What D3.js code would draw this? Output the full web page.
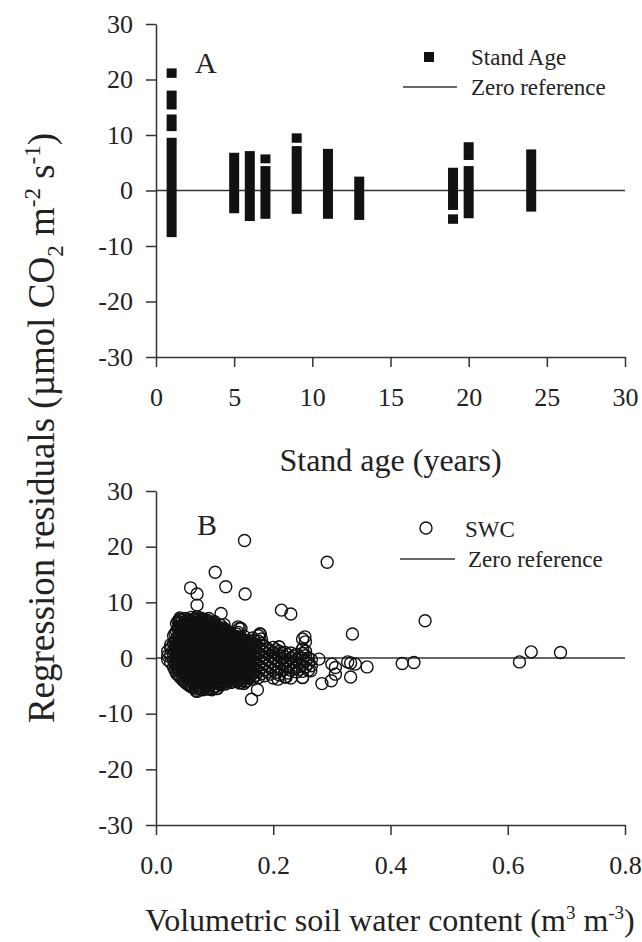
<!DOCTYPE html>
<html>
<head>
<meta charset="utf-8">
<script src="https://cdn.jsdelivr.net/npm/d3@7"></script>
<style>
  body { margin: 0; background: #fff; }
  text { font-family: "Liberation Serif", "Times New Roman", serif; fill: #222; }
</style>
</head>
<body>
<svg id="chart"></svg>
<script>
// tick values
const ageTicks = [0, 5, 10, 15, 20, 25, 30];
const residTicks = [-30, -20, -10, 0, 10, 20, 30];
const swcTicks = [0.0, 0.2, 0.4, 0.6, 0.8];

// panel A: runs of stacked residuals per stand age (top / bottom of each run)
const segAge    = [1, 1, 1, 1, 5, 6, 7, 7, 9, 9, 11, 13, 19, 19, 20, 20, 24];
const segTop    = [22.0, 18.0, 13.7, 9.5, 6.8, 7.1, 6.5, 4.4, 10.3, 8.0, 7.5, 2.5, 4.1, -4.3, 8.7, 4.4, 7.4];
const segBottom = [20.3, 14.6, 10.7, -8.4, -4.1, -5.5, 4.9, -5.1, 8.6, -4.2, -5.1, -5.3, -3.5, -6.0, 5.5, -5.0, -3.8];

// panel B: dense cloud, read as columns of SWC with their residuals
const swcColumns = [0.020, 0.025, 0.030, 0.035, 0.040, 0.045, 0.050, 0.055, 0.060, 0.065,
  0.070, 0.075, 0.080, 0.085, 0.090, 0.095, 0.100, 0.105, 0.110, 0.115,
  0.120, 0.125, 0.130, 0.135, 0.140, 0.145, 0.150, 0.155, 0.160, 0.165,
  0.170, 0.175, 0.180, 0.185, 0.190, 0.195, 0.200, 0.205, 0.210, 0.215,
  0.220, 0.225, 0.230, 0.235, 0.240, 0.245, 0.250, 0.255, 0.260, 0.265];
const swcColumnResid = [
  [0.4, -0.3, 1.2],
  [-0.8, 0.5, 1.8, 2.4],
  [-1.6, -0.5, 0.6, 1.5, 2.6, 4.0],
  [-2.8, -1.7, -0.6, 0.3, 1.4, 2.3, 3.4, 4.8, 6.2],
  [-3.3, -2.2, -1.0, 0.1, 1.0, 2.1, 3.0, 4.1, 5.2, 6.4, 7.0],
  [-3.9, -2.7, -1.5, -0.4, 0.7, 1.7, 2.8, 3.7, 4.9, 5.8, 6.8],
  [-4.4, -3.1, -2.0, -0.9, 0.2, 1.3, 2.4, 3.3, 4.5, 5.4, 6.3, 7.1],
  [-4.8, -3.6, -2.5, -1.3, -0.2, 0.9, 1.9, 3.0, 4.0, 5.0, 6.1, 6.9],
  [-5.1, -4.0, -2.8, -1.7, -0.6, 0.5, 1.6, 2.6, 3.7, 4.7, 5.7, 6.6, 7.3],
  [-4.6, -3.4, -2.2, -1.1, 0.0, 1.1, 2.2, 3.2, 4.3, 5.3, 6.2, 7.0],
  [-6.0, -5.0, -3.9, -2.7, -1.5, -0.4, 0.7, 1.8, 2.9, 3.9, 5.0, 5.9, 6.8, 7.4],
  [-5.3, -4.2, -3.0, -1.9, -0.8, 0.3, 1.4, 2.5, 3.5, 4.6, 5.6, 6.5, 7.2],
  [-5.7, -4.6, -3.4, -2.3, -1.2, -0.1, 1.0, 2.1, 3.1, 4.2, 5.2, 6.2, 7.0],
  [-5.0, -3.8, -2.6, -1.5, -0.4, 0.6, 1.7, 2.8, 3.8, 4.9, 5.9, 6.7],
  [-5.4, -4.3, -3.1, -2.0, -0.9, 0.2, 1.3, 2.4, 3.4, 4.5, 5.5, 6.4, 7.1],
  [-5.7, -4.7, -3.5, -2.4, -1.3, -0.2, 0.9, 2.0, 3.0, 4.1, 5.1, 6.0],
  [-5.2, -4.0, -2.9, -1.8, -0.7, 0.4, 1.5, 2.6, 3.6, 4.7, 5.6, 6.5],
  [-5.5, -4.4, -3.3, -2.2, -1.1, 0.0, 1.1, 2.2, 3.2, 4.3, 5.3],
  [-4.8, -3.7, -2.6, -1.5, -0.4, 0.7, 1.8, 2.8, 3.9, 4.9, 5.9],
  [-4.2, -3.1, -2.0, -0.9, 0.2, 1.3, 2.4, 3.4, 4.5, 5.4],
  [-4.5, -3.5, -2.4, -1.3, -0.2, 0.9, 2.0, 3.0, 4.1, 5.0],
  [-3.9, -2.8, -1.7, -0.6, 0.5, 1.6, 2.6, 3.7, 4.6],
  [-4.3, -3.2, -2.1, -1.0, 0.1, 1.2, 2.2, 3.3, 4.2],
  [-3.6, -2.5, -1.4, -0.3, 0.8, 1.9, 2.9, 3.9],
  [-4.0, -2.9, -1.8, -0.7, 0.4, 1.5, 2.5, 3.6, 4.6, 5.6],
  [-4.4, -3.3, -2.2, -1.1, 0.0, 1.1, 2.1, 3.2],
  [-4.6, -3.6, -2.5, -1.4, -0.3, 0.8, 1.8, 2.9, 3.9],
  [-4.1, -3.0, -1.9, -0.8, 0.3, 1.4, 2.5],
  [-3.4, -2.3, -1.2, -0.1, 1.0, 2.0, 3.0],
  [-3.8, -2.7, -1.6, -0.5, 0.6, 1.7, 2.7, 3.6],
  [-3.1, -2.0, -0.9, 0.2, 1.3, 2.3],
  [-3.5, -2.4, -1.3, -0.2, 0.9, 1.9, 3.0, 4.0],
  [-2.8, -1.7, -0.6, 0.5, 1.6, 2.6, 3.4],
  [-3.2, -2.1, -1.0, 0.1, 1.1, 2.1],
  [-2.5, -1.4, -0.3, 0.8, 1.7],
  [-2.9, -1.8, -0.7, 0.4, 1.3],
  [-3.6, -2.2, -1.1, 0.0, 1.0, 1.9],
  [-2.6, -1.5, -0.4, 0.7, 1.5],
  [-3.0, -1.9, -0.8, 0.3, 1.2, 2.0],
  [-2.3, -1.2, -0.1, 0.9],
  [-3.4, -2.0, -0.9, 0.2, 1.0],
  [-2.7, -1.6, -0.5, 0.6],
  [-3.6, -2.2, -1.1, 0.0, 0.9],
  [-1.8, -0.7, 0.3],
  [-2.5, -1.3, -0.2, 0.7],
  [-2.0, -0.9, 0.2],
  [-3.5, -2.4, -1.2, -0.1, 0.8, 1.6],
  [-1.6, -0.6, 0.4, 1.2],
  [-2.2, -1.0, 0.0],
  [-1.4, -0.3]
];

// panel B: core of the cloud, between the columns above
const coreSwc = [0.0325, 0.0375, 0.0425, 0.0475, 0.0525, 0.0575, 0.0625, 0.0675, 0.0725, 0.0775,
  0.0825, 0.0875, 0.0925, 0.0975, 0.1025, 0.1075, 0.1125, 0.1175, 0.1225, 0.1275,
  0.1325, 0.1375, 0.1425, 0.1475, 0.1525, 0.1575, 0.1625, 0.1675];
const coreResid = [
  [-2.2, -1.1, 0.0, 0.9, 2.0, 3.1, 4.4],
  [-3.0, -2.0, -0.9, 0.6, 1.8, 2.8, 3.9, 5.3, 6.6],
  [-3.6, -2.5, -1.3, -0.3, 0.7, 1.6, 2.6, 3.6, 4.7, 5.8, 6.9],
  [-4.1, -2.9, -1.8, -0.7, 0.3, 1.2, 2.2, 3.2, 4.3, 5.3, 6.3],
  [-4.6, -3.4, -2.3, -1.1, 0.0, 1.0, 2.0, 3.0, 3.9, 5.0, 6.0, 6.8],
  [-5.0, -3.9, -2.7, -1.5, -0.4, 0.6, 1.6, 2.7, 3.7, 4.6, 5.6, 6.5],
  [-5.3, -4.3, -3.1, -1.9, -0.9, 0.1, 1.1, 2.1, 3.0, 4.0, 5.0, 6.0, 6.9],
  [-5.6, -4.4, -3.3, -2.1, -1.0, 0.0, 1.0, 2.0, 3.0, 4.1, 5.1, 6.1, 7.0],
  [-5.5, -4.5, -3.3, -2.2, -1.0, -0.1, 1.0, 2.0, 3.1, 4.1, 5.2, 6.1, 7.0],
  [-5.6, -4.5, -3.4, -2.3, -1.2, -0.2, 0.8, 1.9, 2.9, 4.0, 5.0, 6.0, 6.9],
  [-5.4, -4.2, -3.0, -1.9, -0.9, 0.2, 1.2, 2.2, 3.3, 4.3, 5.4, 6.4],
  [-5.6, -4.4, -3.3, -2.2, -1.1, -0.1, 0.9, 1.9, 3.0, 4.0, 5.0, 6.0, 6.8],
  [-5.0, -3.9, -2.8, -1.6, -0.5, 0.6, 1.6, 2.7, 3.7, 4.8, 5.8],
  [-5.5, -4.4, -3.3, -2.1, -1.0, 0.0, 1.0, 2.1, 3.1, 4.2, 5.2, 6.2],
  [-5.0, -3.8, -2.7, -1.6, -0.5, 0.6, 1.7, 2.7, 3.8, 4.8, 5.8],
  [-4.6, -3.5, -2.4, -1.3, -0.2, 0.9, 2.0, 3.0, 4.0, 5.0],
  [-4.4, -3.3, -2.2, -1.1, 0.0, 1.1, 2.1, 3.1, 4.2, 5.2],
  [-4.7, -3.7, -2.6, -1.6, -0.5, 0.6, 1.7, 2.7, 3.7, 4.8],
  [-4.1, -3.0, -1.9, -0.8, 0.3, 1.4, 2.4, 3.4, 4.4],
  [-4.4, -3.4, -2.3, -1.2, -0.1, 1.0, 2.0, 3.0, 4.0],
  [-3.9, -2.8, -1.7, -0.6, 0.5, 1.5, 2.5, 3.6],
  [-4.2, -3.1, -2.0, -0.9, 0.2, 1.2, 2.2, 3.3, 4.3],
  [-4.5, -3.5, -2.4, -1.3, -0.2, 0.8, 1.8, 2.8, 3.8],
  [-4.0, -2.9, -1.8, -0.7, 0.4, 1.4, 2.4, 3.4],
  [-4.3, -3.2, -2.1, -1.0, 0.1, 1.1, 2.1, 3.1],
  [-3.7, -2.6, -1.5, -0.4, 0.7, 1.7, 2.7],
  [-3.1, -2.0, -0.9, 0.2, 1.3, 2.3],
  [-3.4, -2.3, -1.2, -0.1, 1.0, 2.0, 3.2]
];

// panel B: scattered points outside the cloud
const outSwc   = [0.151, 0.292, 0.101, 0.119, 0.059, 0.070, 0.070, 0.152, 0.214, 0.230,
  0.459, 0.111, 0.041, 0.254, 0.335, 0.142, 0.177, 0.640, 0.690, 0.620,
  0.420, 0.440, 0.360, 0.327, 0.332, 0.340, 0.332, 0.306, 0.306, 0.299,
  0.283, 0.278, 0.300, 0.163, 0.173, 0.068, 0.103, 0.264, 0.250, 0.250,
  0.222, 0.208, 0.145, 0.116, 0.178, 0.210, 0.250, 0.255];
const outResid = [21.1, 17.2, 15.4, 12.8, 12.6, 11.5, 9.5, 11.5, 8.6, 7.9,
  6.7, 8.0, 7.2, 3.8, 4.3, 5.3, 4.3, 1.1, 1.0, -0.7,
  -1.0, -0.8, -1.6, -0.7, -0.9, -1.1, -3.4, -1.7, -2.9, -4.1,
  -4.6, -0.2, -1.1, -7.4, -5.7, -5.9, -5.5, -2.3, -3.5, 1.6,
  -3.4, -3.8, 5.3, 6.0, 4.3, 2.0, 3.4, 2.9];

const width = 642, height = 942;
const left = 156, right = 625;

const svg = d3.select("#chart")
  .attr("width", width)
  .attr("height", height);

svg.append("rect").attr("width", width).attr("height", height).attr("fill", "#fff");

const xAge = d3.scaleLinear().domain([0, 30]).range([left, right]);
const yA = d3.scaleLinear().domain([-30, 30]).range([357, 24]);
const xSwc = d3.scaleLinear().domain([0, 0.8]).range([left, right]);
const yB = d3.scaleLinear().domain([-30, 30]).range([825, 491]);

function styleAxis(g) {
  g.select(".domain").attr("stroke", "#333").attr("stroke-width", 1.5);
  g.selectAll(".tick line").attr("stroke", "#333").attr("stroke-width", 1.5);
  g.selectAll(".tick text")
    .attr("fill", "#222")
    .style("font-family", "'Liberation Serif', 'Times New Roman', serif")
    .style("font-size", "26px");
}

function drawAxes(xScale, yScale, xTicks, xFormat) {
  svg.append("g")
    .attr("transform", `translate(0,${yScale(-30)})`)
    .call(d3.axisBottom(xScale).tickValues(xTicks).tickFormat(xFormat)
      .tickSize(10).tickSizeOuter(0).tickPadding(21))
    .call(styleAxis);
  svg.append("g")
    .attr("transform", `translate(${left},0)`)
    .call(d3.axisLeft(yScale).tickValues(residTicks).tickFormat(d => String(d))
      .tickSize(10).tickSizeOuter(0).tickPadding(13))
    .call(styleAxis);
  // zero reference
  svg.append("line")
    .attr("x1", left).attr("x2", right)
    .attr("y1", yScale(0)).attr("y2", yScale(0))
    .attr("stroke", "#333").attr("stroke-width", 1.3);
}

// ---------- panel A ----------
drawAxes(xAge, yA, ageTicks, d => String(d));

const barW = 10;
svg.append("g").selectAll("rect")
  .data(segAge.map((a, i) => ({ age: a, top: segTop[i], bottom: segBottom[i] })))
  .enter().append("rect")
  .attr("x", d => xAge(d.age) - barW / 2)
  .attr("y", d => yA(d.top))
  .attr("width", barW)
  .attr("height", d => yA(d.bottom) - yA(d.top))
  .attr("fill", "#111");

svg.append("text").attr("x", 195).attr("y", 73)
  .style("font-size", "30px").text("A");

// legend A
svg.append("rect").attr("x", 424).attr("y", 52).attr("width", 10).attr("height", 10).attr("fill", "#111");
svg.append("text").attr("x", 471).attr("y", 65).style("font-size", "23px").text("Stand Age");
svg.append("line").attr("x1", 403).attr("x2", 457).attr("y1", 87).attr("y2", 87)
  .attr("stroke", "#333").attr("stroke-width", 1.3);
svg.append("text").attr("x", 471).attr("y", 95).style("font-size", "23px").text("Zero reference");

svg.append("text").attr("x", (left + right) / 2).attr("y", 471)
  .attr("text-anchor", "middle").style("font-size", "32px").text("Stand age (years)");

// ---------- panel B ----------
drawAxes(xSwc, yB, swcTicks, d3.format(".1f"));

const swcPoints = [];
swcColumns.forEach((x, i) => swcColumnResid[i].forEach(r => swcPoints.push({ swc: x, resid: r })));
coreSwc.forEach((x, i) => coreResid[i].forEach(r => swcPoints.push({ swc: x, resid: r })));
outSwc.forEach((x, i) => swcPoints.push({ swc: x, resid: outResid[i] }));

svg.append("g").selectAll("circle")
  .data(swcPoints)
  .enter().append("circle")
  .attr("cx", d => xSwc(d.swc))
  .attr("cy", d => yB(d.resid))
  .attr("r", 6)
  .attr("fill", "none")
  .attr("stroke", "#111")
  .attr("stroke-width", 1.4);

svg.append("text").attr("x", 197).attr("y", 535)
  .style("font-size", "30px").text("B");

// legend B
svg.append("circle").attr("cx", 426).attr("cy", 528).attr("r", 6)
  .attr("fill", "none").attr("stroke", "#111").attr("stroke-width", 1.4);
svg.append("text").attr("x", 465).attr("y", 537).style("font-size", "23px").text("SWC");
svg.append("line").attr("x1", 400).attr("x2", 455).attr("y1", 559).attr("y2", 559)
  .attr("stroke", "#333").attr("stroke-width", 1.3);
svg.append("text").attr("x", 468).attr("y", 567).style("font-size", "23px").text("Zero reference");

const xtB = svg.append("text").attr("x", 390).attr("y", 931)
  .attr("text-anchor", "middle").style("font-size", "32px");
xtB.append("tspan").text("Volumetric soil water content (m");
xtB.append("tspan").attr("dy", -12).style("font-size", "19px").text("3");
xtB.append("tspan").attr("dy", 12).text(" m");
xtB.append("tspan").attr("dy", -12).style("font-size", "19px").text("-3");
xtB.append("tspan").attr("dy", 12).text(")");

// shared y title
const yt = svg.append("text")
  .attr("transform", `translate(54,428) rotate(-90)`)
  .attr("text-anchor", "middle").style("font-size", "37px");
yt.append("tspan").text("Regression residuals (\u00b5mol CO");
yt.append("tspan").attr("dy", 9).style("font-size", "23px").text("2");
yt.append("tspan").attr("dy", -9).text(" m");
yt.append("tspan").attr("dy", -14).style("font-size", "23px").text("-2");
yt.append("tspan").attr("dy", 14).text(" s");
yt.append("tspan").attr("dy", -14).style("font-size", "23px").text("-1");
yt.append("tspan").attr("dy", 14).text(")");
</script>
</body>
</html>
